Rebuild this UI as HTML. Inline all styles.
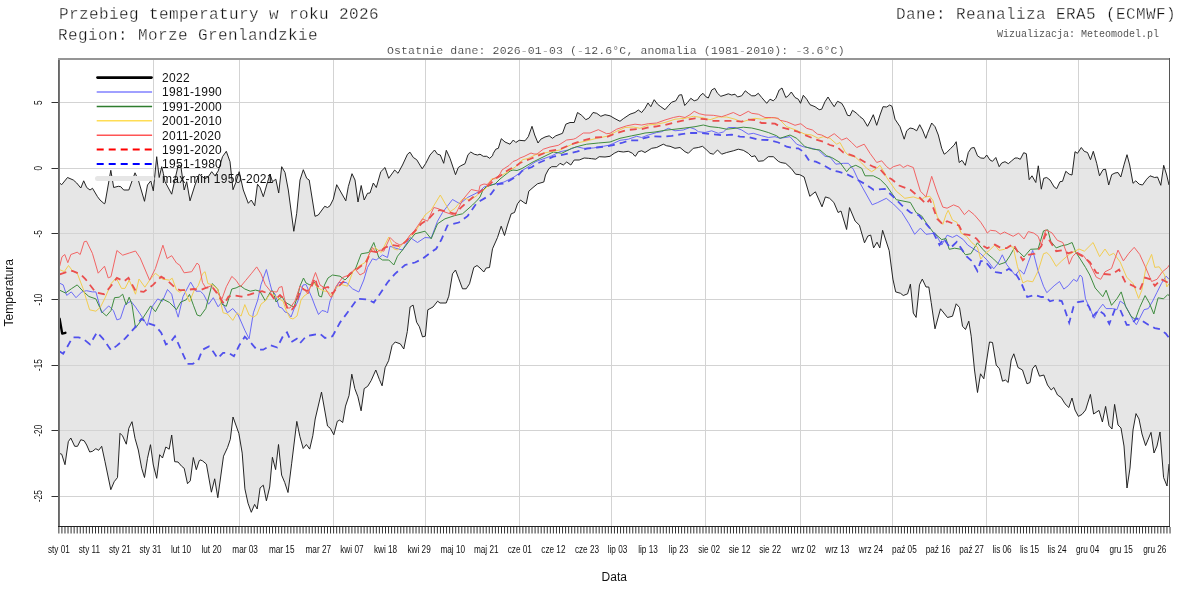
<!DOCTYPE html><html><head><meta charset="utf-8"><style>
html,body{margin:0;padding:0;background:#fff;width:1200px;height:600px;overflow:hidden}
svg{display:block;will-change:transform}
.mono{font-family:"Liberation Mono",monospace}
.sans{font-family:"Liberation Sans",sans-serif}
</style></head><body>
<svg width="1200" height="600" viewBox="0 0 1200 600">
<rect width="1200" height="600" fill="#fff"/>
<path d="M59.0,182.5 L61.7,184.7 L67.5,177.5 L73.3,180.0 L76.7,183.0 L80.8,188.0 L83.7,180.8 L86.7,187.5 L90.0,190.0 L92.5,188.3 L97.5,196.7 L100.0,200.0 L104.2,203.7 L105.0,203.3 L110.8,170.3 L113.7,187.5 L118.3,186.3 L120.8,186.7 L123.7,190.0 L128.8,190.0 L135.0,172.8 L138.3,180.0 L144.5,201.3 L147.5,185.0 L150.8,180.8 L153.3,190.8 L156.7,156.7 L159.2,177.5 L161.7,166.7 L163.3,173.3 L165.0,181.7 L171.7,194.2 L175.0,179.2 L178.3,165.0 L180.8,165.8 L184.2,190.0 L186.7,181.7 L190.0,200.8 L195.0,185.0 L199.2,174.2 L205.0,178.7 L208.3,176.7 L211.7,171.7 L215.0,175.8 L218.3,170.8 L222.5,156.7 L226.3,151.3 L230.0,161.7 L233.0,189.7 L235.8,182.5 L239.2,171.7 L243.3,190.0 L248.3,203.3 L251.3,200.0 L254.7,205.8 L257.5,184.2 L260.0,187.5 L263.3,196.7 L266.7,185.0 L270.0,174.2 L272.5,181.7 L275.8,179.2 L278.7,193.0 L281.7,166.7 L285.0,172.5 L288.3,190.0 L293.8,231.3 L296.7,213.3 L300.0,180.0 L303.3,169.7 L306.7,178.3 L309.2,180.0 L315.0,216.3 L318.3,215.0 L324.7,206.3 L327.5,207.5 L330.0,205.8 L333.3,199.2 L336.7,184.7 L345.8,200.8 L348.3,186.7 L352.0,173.7 L355.0,180.0 L358.0,202.0 L361.2,185.5 L364.2,200.0 L367.5,193.3 L370.0,193.0 L373.3,183.0 L376.3,187.5 L380.8,171.7 L385.0,167.5 L388.7,178.3 L394.7,170.0 L398.0,173.3 L402.5,165.0 L407.5,154.2 L410.0,152.2 L413.3,157.5 L416.7,159.7 L422.2,168.8 L425.8,163.3 L430.0,155.0 L434.5,150.0 L437.5,154.2 L440.3,155.0 L443.7,163.3 L446.3,150.3 L450.0,158.3 L455.5,174.7 L458.3,167.5 L460.8,165.8 L465.0,163.7 L468.0,154.7 L470.8,152.0 L474.2,154.2 L477.5,155.0 L480.0,154.2 L483.3,156.3 L486.7,156.3 L489.7,158.3 L492.5,155.8 L493.3,153.3 L495.8,149.2 L498.3,148.3 L501.3,138.7 L505.0,142.0 L510.0,144.2 L513.3,140.0 L515.8,142.5 L519.2,140.3 L525.0,140.8 L528.3,136.7 L532.0,126.3 L534.7,135.0 L538.0,143.0 L540.8,139.2 L545.0,137.0 L549.2,135.8 L552.5,138.3 L555.8,135.8 L562.5,133.3 L565.8,124.2 L570.0,122.5 L574.2,122.5 L577.5,112.5 L581.7,115.3 L585.8,119.7 L589.2,118.0 L593.0,112.5 L596.7,113.3 L600.8,116.3 L605.0,114.7 L610.0,115.8 L615.0,118.7 L620.0,121.3 L623.3,118.7 L630.0,114.2 L635.0,112.5 L638.3,110.0 L641.7,112.5 L645.0,108.3 L648.0,103.0 L650.8,106.7 L654.2,99.7 L657.5,104.2 L660.8,106.7 L665.0,109.7 L668.3,105.8 L671.7,102.2 L675.8,100.8 L679.2,95.0 L681.7,94.7 L684.7,105.5 L687.5,102.5 L690.8,98.3 L694.2,100.8 L697.5,99.7 L700.0,95.8 L703.0,93.3 L705.8,96.7 L708.3,98.0 L711.7,90.0 L714.7,88.3 L717.5,93.3 L720.8,96.3 L725.0,95.0 L728.3,93.8 L731.7,95.0 L735.0,94.2 L737.5,97.0 L741.7,95.8 L745.3,90.8 L748.3,93.3 L751.7,95.8 L755.0,95.8 L758.3,93.3 L761.7,97.5 L766.7,103.3 L770.0,99.2 L773.3,100.8 L775.8,98.3 L779.2,90.0 L782.0,88.0 L785.8,97.5 L788.3,95.8 L791.3,92.0 L795.0,97.5 L798.3,99.2 L800.5,103.3 L803.3,95.3 L806.7,99.2 L810.0,104.7 L815.0,106.7 L819.2,109.7 L821.7,109.2 L825.0,101.7 L828.0,97.0 L830.8,101.7 L834.2,106.7 L837.5,101.3 L841.7,103.3 L844.2,107.5 L847.5,115.3 L850.0,115.8 L852.5,110.3 L856.7,113.3 L860.0,116.7 L863.3,119.2 L867.5,126.3 L870.8,120.0 L873.3,114.7 L876.7,125.3 L880.0,115.0 L883.0,106.7 L886.7,107.0 L889.7,105.0 L892.0,106.3 L895.0,119.2 L900.0,126.7 L904.2,139.2 L906.7,130.8 L910.0,128.0 L913.3,128.7 L916.7,130.8 L919.7,124.7 L922.5,130.0 L925.8,138.3 L927.5,133.3 L931.7,123.0 L935.0,126.7 L938.3,135.0 L941.7,148.3 L944.2,154.2 L946.7,152.5 L950.8,148.3 L954.2,145.0 L956.2,141.7 L959.2,162.5 L962.0,160.3 L965.3,165.3 L968.3,152.5 L971.3,148.0 L974.2,147.5 L977.5,155.8 L980.8,158.0 L984.2,158.3 L986.7,155.0 L990.0,160.0 L992.5,161.3 L995.8,157.5 L999.2,166.7 L1001.7,163.0 L1005.0,161.7 L1008.3,163.7 L1011.7,160.8 L1015.0,158.0 L1017.5,158.0 L1020.3,159.3 L1023.7,152.7 L1026.3,153.7 L1029.2,179.7 L1032.0,175.8 L1035.8,182.5 L1038.3,165.8 L1041.3,189.2 L1043.7,178.3 L1046.7,177.5 L1050.0,180.0 L1054.2,187.0 L1056.7,188.7 L1060.0,181.7 L1062.5,181.3 L1065.8,171.3 L1069.2,174.2 L1072.0,175.0 L1075.0,151.7 L1077.5,153.3 L1081.3,147.5 L1084.2,151.3 L1087.5,152.5 L1090.5,159.7 L1093.3,151.3 L1096.7,163.3 L1099.5,175.8 L1103.0,169.7 L1105.5,169.2 L1108.7,185.0 L1111.7,174.7 L1115.0,173.0 L1118.0,172.5 L1120.8,177.0 L1124.2,164.2 L1127.0,154.7 L1129.7,165.0 L1133.0,183.3 L1135.8,180.8 L1139.2,184.2 L1142.5,185.0 L1146.7,179.2 L1150.0,175.8 L1154.7,177.5 L1157.5,177.0 L1160.8,185.3 L1163.7,165.3 L1166.7,175.0 L1169.0,185.0 L1169.0,464.0 L1167.0,486.0 L1163.6,477.6 L1160.0,432.0 L1157.0,446.0 L1154.0,453.0 L1151.0,432.4 L1145.6,445.6 L1142.0,434.0 L1139.0,419.0 L1136.0,413.6 L1133.0,430.0 L1130.0,468.0 L1127.0,488.0 L1124.0,446.0 L1121.0,428.0 L1118.0,425.0 L1114.6,404.4 L1112.0,429.0 L1109.0,425.6 L1105.6,406.4 L1102.4,422.0 L1099.0,410.4 L1093.6,414.0 L1090.4,394.4 L1085.6,410.0 L1082.0,414.4 L1078.4,416.4 L1075.0,410.0 L1072.0,398.0 L1068.8,407.5 L1065.0,403.8 L1061.2,397.5 L1057.5,395.0 L1053.8,387.5 L1051.2,390.0 L1047.5,385.0 L1043.8,375.0 L1039.5,376.2 L1035.5,365.0 L1032.5,368.8 L1030.0,382.5 L1027.0,383.8 L1022.5,370.0 L1018.0,367.5 L1013.8,353.8 L1011.2,360.0 L1008.2,382.5 L1005.5,380.0 L1002.5,381.2 L999.5,368.8 L996.2,365.0 L992.5,342.5 L989.5,342.0 L983.8,378.8 L980.5,373.8 L977.5,392.5 L974.5,370.0 L971.2,336.2 L968.8,321.2 L965.5,329.5 L962.5,326.2 L959.5,307.5 L956.2,303.8 L952.5,316.2 L947.5,317.5 L940.5,308.8 L935.0,328.8 L931.2,302.5 L928.8,287.0 L926.0,287.0 L922.3,279.1 L919.5,284.8 L916.1,317.4 L913.3,313.1 L910.4,284.2 L907.6,293.8 L903.3,295.5 L900.5,293.3 L895.7,291.9 L892.9,279.1 L889.2,250.7 L882.6,230.3 L879.8,247.9 L877.0,242.2 L873.6,247.9 L870.7,235.1 L867.9,236.0 L864.5,242.8 L859.4,225.2 L855.1,221.0 L849.5,207.6 L846.6,229.5 L841.0,211.0 L838.1,212.5 L833.9,202.5 L829.6,198.3 L825.4,196.9 L822.0,206.8 L815.4,191.8 L809.8,196.3 L804.1,177.0 L799.8,174.7 L795.6,174.2 L791.3,168.5 L785.7,163.4 L780.8,162.5 L778.3,161.3 L773.3,156.7 L768.3,156.7 L763.3,160.8 L758.3,161.3 L755.0,155.8 L751.7,156.7 L748.3,153.3 L743.3,150.3 L738.3,149.2 L733.3,150.8 L726.7,152.5 L721.7,154.2 L717.5,150.0 L713.3,154.2 L710.0,153.3 L706.7,150.0 L702.5,146.3 L698.3,147.5 L693.3,148.3 L688.3,153.3 L685.0,151.7 L680.0,147.5 L675.0,148.3 L670.0,146.3 L666.7,145.8 L663.3,144.2 L660.0,145.8 L656.7,147.5 L651.7,148.3 L645.0,152.5 L641.7,150.8 L638.3,151.7 L635.8,155.8 L635.0,156.3 L632.5,153.3 L628.3,151.3 L623.3,152.0 L618.3,151.3 L614.2,153.3 L610.0,156.3 L605.0,157.0 L599.2,156.7 L595.8,159.2 L591.7,158.7 L588.3,158.3 L584.2,158.0 L579.2,160.0 L574.2,160.0 L570.8,165.0 L566.7,162.0 L563.3,165.0 L560.0,163.3 L556.7,166.7 L551.7,166.7 L548.8,168.8 L545.5,175.0 L543.8,182.0 L537.5,183.8 L533.0,187.5 L528.8,191.2 L526.2,203.8 L523.8,202.5 L520.5,200.0 L517.5,203.8 L514.5,212.5 L511.2,213.8 L507.5,225.0 L504.5,235.5 L501.2,226.2 L497.5,237.5 L492.5,248.8 L489.5,267.5 L486.2,268.0 L483.8,272.0 L480.0,268.0 L477.0,265.5 L473.8,267.5 L469.5,283.8 L466.2,288.8 L462.5,288.8 L458.8,278.8 L455.5,270.0 L452.5,273.8 L448.8,296.2 L446.2,303.0 L440.0,303.0 L437.6,301.2 L433.0,307.0 L427.8,309.8 L425.3,336.2 L422.5,336.9 L419.4,326.8 L416.6,322.2 L413.1,305.1 L410.1,307.0 L407.3,331.5 L403.8,349.0 L400.3,343.9 L395.2,342.0 L392.1,345.5 L388.6,360.7 L385.1,367.7 L382.1,385.8 L379.3,379.3 L375.8,370.0 L371.2,380.5 L367.7,386.3 L364.2,388.6 L361.1,410.8 L357.9,396.8 L354.8,388.6 L351.8,374.2 L349.0,395.6 L345.5,406.1 L342.7,422.5 L339.7,420.1 L337.3,421.3 L333.8,434.8 L330.3,428.3 L327.5,426.0 L321.5,392.1 L315.2,419.0 L312.8,435.7 L309.7,449.1 L306.4,444.5 L303.2,448.5 L299.9,436.6 L296.8,421.4 L291.7,463.2 L288.0,492.5 L284.7,482.4 L281.6,475.1 L278.5,444.5 L275.6,469.6 L272.4,457.3 L269.7,487.0 L266.4,500.8 L263.3,485.2 L260.1,487.9 L257.2,509.0 L254.6,504.4 L251.3,512.3 L248.0,503.2 L244.9,488.9 L242.2,453.1 L238.9,433.5 L233.0,417.0 L230.3,439.3 L227.5,447.6 L223.5,456.2 L217.8,497.7 L214.7,478.8 L211.4,492.2 L206.4,464.1 L202.5,460.8 L200.0,459.9 L199.2,460.8 L196.3,469.7 L193.3,457.5 L190.3,480.8 L187.5,483.7 L184.2,468.3 L181.7,466.3 L178.0,462.0 L174.7,461.7 L171.7,435.0 L169.2,449.2 L165.8,447.0 L162.5,458.0 L159.7,454.7 L156.7,478.3 L153.3,465.0 L150.5,444.7 L147.5,458.3 L144.5,477.5 L141.7,468.3 L138.3,450.0 L135.0,438.3 L132.0,421.7 L128.8,428.3 L126.3,444.2 L122.5,435.8 L120.0,433.3 L117.5,477.5 L114.2,481.7 L110.8,489.7 L105.0,461.7 L101.7,446.3 L98.7,450.3 L95.8,448.7 L92.5,451.3 L89.7,452.0 L86.7,445.0 L84.2,440.8 L80.8,439.7 L77.5,446.3 L74.7,446.3 L70.8,438.0 L68.3,441.7 L65.0,464.7 L61.7,454.2 L59.0,453.3 Z" fill="#e6e6e6" stroke="none"/>
<path d="M59,102.5 H1169 M59,168.5 H1169 M59,233.5 H1169 M59,299.5 H1169 M59,365.5 H1169 M59,430.5 H1169 M59,496.5 H1169 M153.5,60 V526 M239.5,60 V526 M333.5,60 V526 M425.5,60 V526 M519.5,60 V526 M611.5,60 V526 M705.5,60 V526 M800.5,60 V526 M892.5,60 V526 M986.5,60 V526 M1078.5,60 V526" stroke="#d3d3d3" stroke-width="1" fill="none"/>
<path d="M59.0,182.5 L61.7,184.7 L67.5,177.5 L73.3,180.0 L76.7,183.0 L80.8,188.0 L83.7,180.8 L86.7,187.5 L90.0,190.0 L92.5,188.3 L97.5,196.7 L100.0,200.0 L104.2,203.7 L105.0,203.3 L110.8,170.3 L113.7,187.5 L118.3,186.3 L120.8,186.7 L123.7,190.0 L128.8,190.0 L135.0,172.8 L138.3,180.0 L144.5,201.3 L147.5,185.0 L150.8,180.8 L153.3,190.8 L156.7,156.7 L159.2,177.5 L161.7,166.7 L163.3,173.3 L165.0,181.7 L171.7,194.2 L175.0,179.2 L178.3,165.0 L180.8,165.8 L184.2,190.0 L186.7,181.7 L190.0,200.8 L195.0,185.0 L199.2,174.2 L205.0,178.7 L208.3,176.7 L211.7,171.7 L215.0,175.8 L218.3,170.8 L222.5,156.7 L226.3,151.3 L230.0,161.7 L233.0,189.7 L235.8,182.5 L239.2,171.7 L243.3,190.0 L248.3,203.3 L251.3,200.0 L254.7,205.8 L257.5,184.2 L260.0,187.5 L263.3,196.7 L266.7,185.0 L270.0,174.2 L272.5,181.7 L275.8,179.2 L278.7,193.0 L281.7,166.7 L285.0,172.5 L288.3,190.0 L293.8,231.3 L296.7,213.3 L300.0,180.0 L303.3,169.7 L306.7,178.3 L309.2,180.0 L315.0,216.3 L318.3,215.0 L324.7,206.3 L327.5,207.5 L330.0,205.8 L333.3,199.2 L336.7,184.7 L345.8,200.8 L348.3,186.7 L352.0,173.7 L355.0,180.0 L358.0,202.0 L361.2,185.5 L364.2,200.0 L367.5,193.3 L370.0,193.0 L373.3,183.0 L376.3,187.5 L380.8,171.7 L385.0,167.5 L388.7,178.3 L394.7,170.0 L398.0,173.3 L402.5,165.0 L407.5,154.2 L410.0,152.2 L413.3,157.5 L416.7,159.7 L422.2,168.8 L425.8,163.3 L430.0,155.0 L434.5,150.0 L437.5,154.2 L440.3,155.0 L443.7,163.3 L446.3,150.3 L450.0,158.3 L455.5,174.7 L458.3,167.5 L460.8,165.8 L465.0,163.7 L468.0,154.7 L470.8,152.0 L474.2,154.2 L477.5,155.0 L480.0,154.2 L483.3,156.3 L486.7,156.3 L489.7,158.3 L492.5,155.8 L493.3,153.3 L495.8,149.2 L498.3,148.3 L501.3,138.7 L505.0,142.0 L510.0,144.2 L513.3,140.0 L515.8,142.5 L519.2,140.3 L525.0,140.8 L528.3,136.7 L532.0,126.3 L534.7,135.0 L538.0,143.0 L540.8,139.2 L545.0,137.0 L549.2,135.8 L552.5,138.3 L555.8,135.8 L562.5,133.3 L565.8,124.2 L570.0,122.5 L574.2,122.5 L577.5,112.5 L581.7,115.3 L585.8,119.7 L589.2,118.0 L593.0,112.5 L596.7,113.3 L600.8,116.3 L605.0,114.7 L610.0,115.8 L615.0,118.7 L620.0,121.3 L623.3,118.7 L630.0,114.2 L635.0,112.5 L638.3,110.0 L641.7,112.5 L645.0,108.3 L648.0,103.0 L650.8,106.7 L654.2,99.7 L657.5,104.2 L660.8,106.7 L665.0,109.7 L668.3,105.8 L671.7,102.2 L675.8,100.8 L679.2,95.0 L681.7,94.7 L684.7,105.5 L687.5,102.5 L690.8,98.3 L694.2,100.8 L697.5,99.7 L700.0,95.8 L703.0,93.3 L705.8,96.7 L708.3,98.0 L711.7,90.0 L714.7,88.3 L717.5,93.3 L720.8,96.3 L725.0,95.0 L728.3,93.8 L731.7,95.0 L735.0,94.2 L737.5,97.0 L741.7,95.8 L745.3,90.8 L748.3,93.3 L751.7,95.8 L755.0,95.8 L758.3,93.3 L761.7,97.5 L766.7,103.3 L770.0,99.2 L773.3,100.8 L775.8,98.3 L779.2,90.0 L782.0,88.0 L785.8,97.5 L788.3,95.8 L791.3,92.0 L795.0,97.5 L798.3,99.2 L800.5,103.3 L803.3,95.3 L806.7,99.2 L810.0,104.7 L815.0,106.7 L819.2,109.7 L821.7,109.2 L825.0,101.7 L828.0,97.0 L830.8,101.7 L834.2,106.7 L837.5,101.3 L841.7,103.3 L844.2,107.5 L847.5,115.3 L850.0,115.8 L852.5,110.3 L856.7,113.3 L860.0,116.7 L863.3,119.2 L867.5,126.3 L870.8,120.0 L873.3,114.7 L876.7,125.3 L880.0,115.0 L883.0,106.7 L886.7,107.0 L889.7,105.0 L892.0,106.3 L895.0,119.2 L900.0,126.7 L904.2,139.2 L906.7,130.8 L910.0,128.0 L913.3,128.7 L916.7,130.8 L919.7,124.7 L922.5,130.0 L925.8,138.3 L927.5,133.3 L931.7,123.0 L935.0,126.7 L938.3,135.0 L941.7,148.3 L944.2,154.2 L946.7,152.5 L950.8,148.3 L954.2,145.0 L956.2,141.7 L959.2,162.5 L962.0,160.3 L965.3,165.3 L968.3,152.5 L971.3,148.0 L974.2,147.5 L977.5,155.8 L980.8,158.0 L984.2,158.3 L986.7,155.0 L990.0,160.0 L992.5,161.3 L995.8,157.5 L999.2,166.7 L1001.7,163.0 L1005.0,161.7 L1008.3,163.7 L1011.7,160.8 L1015.0,158.0 L1017.5,158.0 L1020.3,159.3 L1023.7,152.7 L1026.3,153.7 L1029.2,179.7 L1032.0,175.8 L1035.8,182.5 L1038.3,165.8 L1041.3,189.2 L1043.7,178.3 L1046.7,177.5 L1050.0,180.0 L1054.2,187.0 L1056.7,188.7 L1060.0,181.7 L1062.5,181.3 L1065.8,171.3 L1069.2,174.2 L1072.0,175.0 L1075.0,151.7 L1077.5,153.3 L1081.3,147.5 L1084.2,151.3 L1087.5,152.5 L1090.5,159.7 L1093.3,151.3 L1096.7,163.3 L1099.5,175.8 L1103.0,169.7 L1105.5,169.2 L1108.7,185.0 L1111.7,174.7 L1115.0,173.0 L1118.0,172.5 L1120.8,177.0 L1124.2,164.2 L1127.0,154.7 L1129.7,165.0 L1133.0,183.3 L1135.8,180.8 L1139.2,184.2 L1142.5,185.0 L1146.7,179.2 L1150.0,175.8 L1154.7,177.5 L1157.5,177.0 L1160.8,185.3 L1163.7,165.3 L1166.7,175.0 L1169.0,185.0" stroke="#1a1a1a" stroke-width="0.95" fill="none" stroke-linejoin="round"/>
<path d="M59.0,453.3 L61.7,454.2 L65.0,464.7 L68.3,441.7 L70.8,438.0 L74.7,446.3 L77.5,446.3 L80.8,439.7 L84.2,440.8 L86.7,445.0 L89.7,452.0 L92.5,451.3 L95.8,448.7 L98.7,450.3 L101.7,446.3 L105.0,461.7 L110.8,489.7 L114.2,481.7 L117.5,477.5 L120.0,433.3 L122.5,435.8 L126.3,444.2 L128.8,428.3 L132.0,421.7 L135.0,438.3 L138.3,450.0 L141.7,468.3 L144.5,477.5 L147.5,458.3 L150.5,444.7 L153.3,465.0 L156.7,478.3 L159.7,454.7 L162.5,458.0 L165.8,447.0 L169.2,449.2 L171.7,435.0 L174.7,461.7 L178.0,462.0 L181.7,466.3 L184.2,468.3 L187.5,483.7 L190.3,480.8 L193.3,457.5 L196.3,469.7 L199.2,460.8 L200.0,459.9 L202.5,460.8 L206.4,464.1 L211.4,492.2 L214.7,478.8 L217.8,497.7 L223.5,456.2 L227.5,447.6 L230.3,439.3 L233.0,417.0 L238.9,433.5 L242.2,453.1 L244.9,488.9 L248.0,503.2 L251.3,512.3 L254.6,504.4 L257.2,509.0 L260.1,487.9 L263.3,485.2 L266.4,500.8 L269.7,487.0 L272.4,457.3 L275.6,469.6 L278.5,444.5 L281.6,475.1 L284.7,482.4 L288.0,492.5 L291.7,463.2 L296.8,421.4 L299.9,436.6 L303.2,448.5 L306.4,444.5 L309.7,449.1 L312.8,435.7 L315.2,419.0 L321.5,392.1 L327.5,426.0 L330.3,428.3 L333.8,434.8 L337.3,421.3 L339.7,420.1 L342.7,422.5 L345.5,406.1 L349.0,395.6 L351.8,374.2 L354.8,388.6 L357.9,396.8 L361.1,410.8 L364.2,388.6 L367.7,386.3 L371.2,380.5 L375.8,370.0 L379.3,379.3 L382.1,385.8 L385.1,367.7 L388.6,360.7 L392.1,345.5 L395.2,342.0 L400.3,343.9 L403.8,349.0 L407.3,331.5 L410.1,307.0 L413.1,305.1 L416.6,322.2 L419.4,326.8 L422.5,336.9 L425.3,336.2 L427.8,309.8 L433.0,307.0 L437.6,301.2 L440.0,303.0 L446.2,303.0 L448.8,296.2 L452.5,273.8 L455.5,270.0 L458.8,278.8 L462.5,288.8 L466.2,288.8 L469.5,283.8 L473.8,267.5 L477.0,265.5 L480.0,268.0 L483.8,272.0 L486.2,268.0 L489.5,267.5 L492.5,248.8 L497.5,237.5 L501.2,226.2 L504.5,235.5 L507.5,225.0 L511.2,213.8 L514.5,212.5 L517.5,203.8 L520.5,200.0 L523.8,202.5 L526.2,203.8 L528.8,191.2 L533.0,187.5 L537.5,183.8 L543.8,182.0 L545.5,175.0 L548.8,168.8 L551.7,166.7 L556.7,166.7 L560.0,163.3 L563.3,165.0 L566.7,162.0 L570.8,165.0 L574.2,160.0 L579.2,160.0 L584.2,158.0 L588.3,158.3 L591.7,158.7 L595.8,159.2 L599.2,156.7 L605.0,157.0 L610.0,156.3 L614.2,153.3 L618.3,151.3 L623.3,152.0 L628.3,151.3 L632.5,153.3 L635.0,156.3 L635.8,155.8 L638.3,151.7 L641.7,150.8 L645.0,152.5 L651.7,148.3 L656.7,147.5 L660.0,145.8 L663.3,144.2 L666.7,145.8 L670.0,146.3 L675.0,148.3 L680.0,147.5 L685.0,151.7 L688.3,153.3 L693.3,148.3 L698.3,147.5 L702.5,146.3 L706.7,150.0 L710.0,153.3 L713.3,154.2 L717.5,150.0 L721.7,154.2 L726.7,152.5 L733.3,150.8 L738.3,149.2 L743.3,150.3 L748.3,153.3 L751.7,156.7 L755.0,155.8 L758.3,161.3 L763.3,160.8 L768.3,156.7 L773.3,156.7 L778.3,161.3 L780.8,162.5 L785.7,163.4 L791.3,168.5 L795.6,174.2 L799.8,174.7 L804.1,177.0 L809.8,196.3 L815.4,191.8 L822.0,206.8 L825.4,196.9 L829.6,198.3 L833.9,202.5 L838.1,212.5 L841.0,211.0 L846.6,229.5 L849.5,207.6 L855.1,221.0 L859.4,225.2 L864.5,242.8 L867.9,236.0 L870.7,235.1 L873.6,247.9 L877.0,242.2 L879.8,247.9 L882.6,230.3 L889.2,250.7 L892.9,279.1 L895.7,291.9 L900.5,293.3 L903.3,295.5 L907.6,293.8 L910.4,284.2 L913.3,313.1 L916.1,317.4 L919.5,284.8 L922.3,279.1 L926.0,287.0 L928.8,287.0 L931.2,302.5 L935.0,328.8 L940.5,308.8 L947.5,317.5 L952.5,316.2 L956.2,303.8 L959.5,307.5 L962.5,326.2 L965.5,329.5 L968.8,321.2 L971.2,336.2 L974.5,370.0 L977.5,392.5 L980.5,373.8 L983.8,378.8 L989.5,342.0 L992.5,342.5 L996.2,365.0 L999.5,368.8 L1002.5,381.2 L1005.5,380.0 L1008.2,382.5 L1011.2,360.0 L1013.8,353.8 L1018.0,367.5 L1022.5,370.0 L1027.0,383.8 L1030.0,382.5 L1032.5,368.8 L1035.5,365.0 L1039.5,376.2 L1043.8,375.0 L1047.5,385.0 L1051.2,390.0 L1053.8,387.5 L1057.5,395.0 L1061.2,397.5 L1065.0,403.8 L1068.8,407.5 L1072.0,398.0 L1075.0,410.0 L1078.4,416.4 L1082.0,414.4 L1085.6,410.0 L1090.4,394.4 L1093.6,414.0 L1099.0,410.4 L1102.4,422.0 L1105.6,406.4 L1109.0,425.6 L1112.0,429.0 L1114.6,404.4 L1118.0,425.0 L1121.0,428.0 L1124.0,446.0 L1127.0,488.0 L1130.0,468.0 L1133.0,430.0 L1136.0,413.6 L1139.0,419.0 L1142.0,434.0 L1145.6,445.6 L1151.0,432.4 L1154.0,453.0 L1157.0,446.0 L1160.0,432.0 L1163.6,477.6 L1167.0,486.0 L1169.0,464.0" stroke="#1a1a1a" stroke-width="0.95" fill="none" stroke-linejoin="round"/>
<path d="M59.7,283.2 L63.2,284.9 L66.7,295.4 L71.3,291.9 L76.0,297.7 L81.8,291.9 L86.5,290.7 L92.4,291.9 L95.9,291.9 L101.7,312.9 L108.7,305.9 L113.4,310.5 L116.9,319.9 L120.4,318.7 L125.0,304.7 L130.9,301.2 L135.5,307.0 L142.5,317.5 L147.2,325.7 L151.9,307.0 L157.7,298.9 L162.4,301.2 L167.5,289.5 L171.7,294.2 L174.3,305.2 L178.2,317.2 L183.0,296.6 L190.6,282.1 L196.0,291.2 L200.3,291.2 L203.6,294.4 L208.6,304.2 L213.3,297.7 L218.1,306.8 L222.0,302.0 L227.4,312.8 L232.8,308.5 L238.2,315.0 L244.8,330.2 L249.1,338.8 L253.4,312.8 L257.8,299.8 L261.0,284.7 L266.4,269.5 L269.7,282.5 L272.0,291.0 L275.0,294.0 L277.0,300.0 L279.0,307.0 L282.0,308.0 L285.0,312.0 L288.0,313.0 L291.0,317.0 L294.0,309.0 L297.5,302.0 L300.0,295.0 L303.0,285.0 L306.0,284.5 L309.0,291.0 L312.0,298.0 L315.0,306.0 L318.5,314.5 L322.0,310.5 L326.0,311.5 L327.5,313.0 L330.0,301.0 L338.8,282.5 L346.2,282.5 L352.5,288.8 L358.8,292.0 L363.8,280.0 L367.5,267.5 L372.5,258.8 L376.2,260.0 L382.5,255.0 L387.5,257.5 L390.0,246.2 L395.0,248.0 L402.5,250.0 L410.0,237.5 L417.5,242.5 L425.0,237.5 L431.2,238.0 L437.5,221.2 L442.5,212.5 L452.5,199.5 L460.0,203.8 L467.5,197.5 L475.0,193.8 L480.0,191.0 L484.0,187.0 L490.0,185.0 L495.0,184.0 L500.0,183.0 L504.0,182.0 L509.0,179.5 L514.0,177.0 L519.0,173.5 L523.0,170.0 L528.0,167.0 L532.0,164.0 L536.0,161.5 L551.7,155.8 L560.0,151.7 L568.3,150.0 L576.7,146.7 L583.3,148.3 L593.3,148.0 L603.3,146.3 L610.0,145.0 L620.0,140.3 L628.3,139.2 L636.7,136.3 L641.7,137.5 L648.3,135.0 L656.7,132.5 L661.7,131.7 L668.3,128.3 L675.0,130.8 L683.3,130.0 L690.0,127.5 L695.0,129.2 L698.3,131.7 L705.0,132.5 L711.7,130.8 L718.3,133.3 L723.3,132.0 L728.3,127.5 L735.0,127.5 L741.7,130.0 L748.3,134.2 L753.3,133.3 L761.7,135.8 L768.3,137.5 L775.0,136.7 L780.0,138.3 L790.0,136.7 L796.7,144.2 L803.3,146.7 L811.7,148.3 L818.3,150.0 L825.0,156.3 L830.0,157.0 L835.8,164.2 L843.3,163.3 L848.3,163.3 L853.3,169.2 L858.3,180.0 L872.2,204.8 L877.8,202.5 L886.3,198.3 L893.4,204.0 L901.9,212.5 L909.0,223.8 L914.7,234.3 L920.4,228.1 L926.0,234.3 L930.8,233.7 L935.2,233.1 L941.7,245.0 L947.1,235.2 L952.5,237.4 L956.8,235.2 L963.3,239.6 L967.7,245.0 L974.2,249.3 L980.7,253.7 L987.2,260.2 L993.7,268.8 L998.0,263.4 L1002.3,254.8 L1006.7,264.5 L1011.0,269.9 L1015.3,275.3 L1019.7,269.9 L1024.0,274.2 L1028.3,262.3 L1032.7,250.4 L1038.1,271.0 L1043.5,286.2 L1046.8,292.7 L1054.1,285.8 L1059.5,281.5 L1063.8,289.1 L1068.2,285.8 L1073.6,279.3 L1076.8,281.5 L1080.1,275.0 L1082.2,277.2 L1085.5,298.8 L1090.9,310.8 L1094.2,318.3 L1098.5,309.7 L1102.8,304.2 L1106.1,308.6 L1112.6,308.6 L1116.9,309.7 L1120.2,301.0 L1124.5,304.2 L1128.8,311.8 L1133.2,320.5 L1136.4,324.8 L1139.7,318.3 L1144.0,309.7 L1148.3,308.6 L1152.7,301.0 L1157.0,292.3 L1161.3,283.7 L1166.1,276.1 L1169.0,279.3" stroke="#6b6bf7" stroke-width="1" fill="none"/>
<path d="M59.7,290.2 L65.5,293.0 L71.3,288.8 L77.2,284.9 L83.0,291.2 L88.9,296.5 L95.9,298.9 L101.7,311.7 L106.4,315.9 L111.0,310.5 L114.5,297.7 L119.2,297.2 L122.7,294.2 L126.2,304.7 L129.2,297.2 L132.0,304.7 L135.5,328.1 L142.5,318.7 L150.7,305.9 L155.4,311.7 L162.4,298.9 L169.4,302.4 L176.5,309.6 L180.8,302.0 L186.2,299.8 L189.5,294.4 L193.4,305.2 L197.1,315.0 L200.3,316.1 L205.8,308.5 L212.2,283.6 L217.7,289.0 L222.0,304.2 L226.3,306.3 L231.8,289.0 L236.1,287.9 L240.4,285.8 L244.8,289.0 L250.2,291.2 L255.6,290.1 L259.9,291.2 L265.3,300.9 L270.8,291.2 L273.0,291.0 L276.0,302.0 L282.0,296.5 L285.0,302.0 L290.0,305.0 L294.0,307.0 L298.0,295.0 L300.0,286.0 L303.5,278.0 L306.0,283.0 L310.0,285.0 L314.0,282.0 L317.0,287.0 L319.0,296.0 L321.5,297.0 L324.5,285.0 L328.0,278.0 L332.5,275.0 L340.0,276.2 L345.0,280.0 L350.0,275.0 L355.0,270.0 L361.2,253.8 L368.8,252.5 L373.8,242.5 L378.8,257.5 L382.5,260.0 L388.8,260.0 L393.8,265.0 L397.5,256.2 L402.5,250.0 L410.0,240.0 L415.0,233.8 L425.0,231.2 L431.2,238.8 L437.5,223.8 L445.0,218.8 L455.0,215.5 L462.5,213.8 L472.5,205.0 L477.5,200.0 L480.0,197.0 L483.0,190.0 L486.0,187.0 L490.0,185.5 L495.0,184.0 L500.0,179.0 L505.0,175.0 L510.0,171.0 L513.0,170.0 L517.0,170.5 L522.0,168.5 L527.0,165.5 L532.0,162.5 L536.0,160.5 L553.3,152.0 L561.7,153.3 L571.7,148.3 L580.0,145.8 L586.7,144.2 L598.3,143.0 L610.0,142.0 L620.0,138.3 L631.7,135.8 L640.0,134.2 L645.0,133.0 L655.0,132.0 L665.0,130.3 L675.0,129.2 L685.0,128.0 L695.0,126.7 L703.3,125.0 L710.0,126.7 L718.3,127.5 L726.7,129.2 L735.0,128.3 L743.3,127.2 L751.7,128.0 L760.0,130.0 L768.3,132.5 L776.7,135.8 L780.0,138.3 L790.0,135.0 L796.7,138.3 L805.0,146.7 L813.3,149.2 L820.0,150.0 L826.7,155.8 L831.7,157.5 L840.0,162.5 L846.7,171.7 L850.0,167.5 L855.8,165.3 L861.7,168.3 L865.0,175.8 L873.3,175.8 L880.0,179.2 L886.3,185.5 L896.3,199.7 L910.4,202.5 L916.1,212.5 L921.8,216.1 L926.5,223.3 L933.0,232.0 L941.7,239.6 L946.0,238.5 L949.2,249.3 L954.7,248.2 L961.2,249.3 L965.5,254.8 L970.9,253.7 L977.4,242.8 L982.8,249.3 L987.2,253.7 L993.7,259.1 L999.1,264.5 L1005.6,262.3 L1009.9,255.8 L1014.2,248.2 L1019.7,252.6 L1024.0,256.9 L1030.5,249.3 L1038.1,248.9 L1043.5,230.9 L1047.8,229.8 L1050.8,241.4 L1056.2,247.9 L1061.7,245.8 L1067.1,244.7 L1072.1,242.5 L1075.8,252.2 L1080.1,258.8 L1085.5,267.4 L1089.8,275.0 L1095.2,288.0 L1102.8,296.7 L1106.1,290.2 L1111.5,305.3 L1116.9,298.8 L1121.2,291.9 L1125.6,306.4 L1131.0,316.2 L1135.3,319.4 L1139.7,307.5 L1145.1,295.6 L1149.4,303.2 L1153.8,314.0 L1158.1,297.8 L1163.5,298.8 L1167.8,294.5 L1169.0,295.6" stroke="#3f8c3f" stroke-width="1" fill="none"/>
<path d="M59.7,269.7 L64.3,271.6 L68.5,265.5 L72.5,270.9 L77.2,273.2 L83.0,288.4 L89.6,309.8 L95.9,311.2 L100.5,307.0 L105.2,297.7 L111.0,283.7 L116.2,277.9 L121.5,288.4 L125.0,288.4 L129.2,280.2 L135.5,294.2 L139.0,279.0 L144.9,287.2 L149.6,280.2 L155.4,273.2 L162.4,279.0 L169.4,280.2 L172.2,278.2 L176.5,290.1 L179.8,292.2 L184.1,289.0 L189.5,302.0 L193.8,291.2 L198.2,285.8 L202.5,273.8 L205.1,271.7 L207.9,283.6 L212.2,284.7 L217.7,289.0 L223.1,312.8 L227.4,313.9 L232.8,320.4 L237.2,312.8 L241.1,316.1 L244.8,304.6 L249.1,315.0 L253.4,317.2 L256.7,315.0 L261.0,304.2 L265.3,300.9 L269.7,294.4 L274.0,295.0 L279.0,299.0 L283.0,301.0 L286.0,310.0 L290.0,318.0 L293.0,319.0 L297.0,316.0 L299.0,308.0 L301.0,300.0 L304.0,296.0 L307.0,294.0 L310.0,287.5 L314.0,283.0 L317.0,287.0 L320.0,289.0 L324.0,291.0 L328.0,291.5 L332.5,296.2 L336.2,287.5 L341.2,284.5 L347.5,286.2 L352.5,272.5 L358.8,266.2 L365.0,262.5 L370.0,252.5 L375.0,247.5 L381.2,252.5 L388.8,237.0 L393.8,248.8 L397.5,250.0 L402.5,243.8 L408.8,237.5 L415.0,232.5 L425.0,215.0 L431.2,210.0 L440.3,195.0 L445.0,203.3 L450.0,211.7 L455.0,208.3 L461.7,200.0 L465.0,198.3 L470.0,200.0 L476.7,195.8 L480.0,192.0 L484.0,190.0 L487.0,187.0 L490.0,181.0 L492.0,178.5 L495.0,179.0 L500.0,176.0 L504.0,174.0 L507.0,172.5 L510.0,170.0 L513.0,168.5 L516.0,166.5 L520.0,162.0 L523.0,159.5 L528.0,158.5 L532.0,156.5 L536.0,154.5 L560.0,150.0 L573.3,143.7 L585.0,141.3 L596.7,138.3 L606.7,136.3 L616.7,131.3 L625.0,127.5 L633.3,127.0 L640.0,128.3 L641.7,127.5 L648.3,125.0 L656.7,124.2 L665.0,122.5 L675.0,119.2 L685.0,118.3 L693.3,116.3 L701.7,117.5 L710.0,119.7 L718.3,117.0 L726.7,117.0 L735.0,119.2 L741.7,122.0 L748.3,120.0 L755.0,118.3 L761.7,119.2 L768.3,118.3 L775.0,117.5 L780.0,120.0 L786.7,126.7 L795.0,129.7 L805.0,134.2 L811.7,135.0 L818.3,138.3 L823.3,136.7 L830.0,138.3 L836.7,144.2 L840.0,142.5 L845.0,151.7 L848.3,155.3 L855.0,156.7 L861.7,163.0 L866.7,168.3 L871.7,171.7 L876.7,168.3 L880.0,165.3 L883.3,170.8 L886.7,177.5 L896.3,191.2 L904.8,198.3 L913.3,196.9 L921.8,199.7 L924.3,197.3 L929.8,196.2 L933.0,200.6 L937.3,216.8 L942.8,224.4 L946.0,214.7 L948.2,210.3 L952.5,220.1 L956.8,222.2 L961.2,233.1 L966.6,236.3 L972.0,242.8 L977.4,247.2 L980.7,259.1 L985.0,253.7 L989.3,250.4 L994.8,245.0 L999.1,250.4 L1004.5,249.3 L1008.8,246.1 L1013.2,247.2 L1017.5,266.7 L1022.9,282.9 L1027.2,280.8 L1032.7,281.8 L1038.1,271.0 L1043.5,253.7 L1046.8,252.6 L1049.8,255.5 L1056.2,266.3 L1061.7,260.9 L1069.2,254.4 L1079.0,249.0 L1084.4,251.2 L1093.1,242.5 L1099.6,256.6 L1105.0,249.0 L1109.3,255.5 L1113.7,253.3 L1120.2,262.0 L1126.7,277.2 L1133.2,283.7 L1138.6,298.4 L1141.8,290.2 L1146.2,266.3 L1151.6,254.4 L1154.8,267.4 L1159.2,266.8 L1164.6,275.0 L1166.8,286.9 L1169.0,283.7" stroke="#f2cd50" stroke-width="1" fill="none"/>
<path d="M59.7,266.2 L62.0,256.8 L64.8,254.5 L67.8,262.7 L70.9,254.5 L77.2,252.2 L80.2,254.5 L84.2,241.7 L86.5,241.2 L92.4,253.3 L98.2,273.2 L104.5,266.2 L108.2,277.9 L111.0,276.7 L116.9,250.5 L122.7,255.2 L129.7,252.9 L135.5,251.0 L140.2,258.0 L149.6,280.2 L155.4,268.5 L162.9,245.2 L167.1,258.5 L171.7,255.7 L176.5,263.0 L179.8,265.2 L184.1,272.8 L191.7,271.7 L197.1,263.0 L199.2,265.2 L202.5,282.5 L205.8,287.9 L211.2,285.8 L215.5,290.1 L222.0,298.8 L226.3,286.8 L231.8,276.4 L236.1,280.3 L240.4,286.8 L245.8,280.3 L251.2,273.8 L256.7,266.9 L261.0,273.8 L265.3,284.7 L270.8,291.6 L277.0,292.0 L279.0,287.5 L282.0,286.5 L284.0,297.0 L287.0,308.0 L290.0,308.0 L295.0,301.0 L300.0,286.0 L304.0,289.0 L308.0,294.0 L312.0,282.0 L315.5,272.5 L320.0,285.0 L325.0,288.0 L330.0,296.0 L331.2,297.5 L336.2,286.2 L342.5,277.5 L348.8,275.0 L355.0,268.8 L360.0,275.0 L364.5,272.5 L368.8,255.0 L372.5,247.5 L376.2,252.5 L380.0,250.0 L383.8,251.2 L390.0,237.5 L395.0,242.5 L400.0,245.0 L405.0,242.5 L410.0,235.0 L415.0,230.0 L422.5,218.8 L427.5,221.2 L433.8,207.5 L438.8,208.8 L442.5,211.2 L450.0,213.8 L455.0,215.5 L462.5,200.0 L471.2,189.5 L478.8,191.2 L480.0,185.5 L484.0,184.0 L487.0,184.5 L490.0,182.0 L493.0,179.0 L497.0,177.0 L500.0,174.0 L502.0,170.0 L505.0,168.0 L509.0,165.5 L513.0,161.5 L517.0,160.0 L520.0,158.0 L524.0,156.5 L528.0,154.5 L531.0,153.0 L534.0,154.0 L537.0,154.0 L543.3,149.2 L550.0,147.0 L558.3,145.3 L566.7,140.0 L573.3,139.2 L575.8,138.3 L583.3,133.0 L590.0,133.0 L598.3,129.7 L606.7,133.7 L610.0,133.3 L616.7,129.2 L626.7,125.8 L635.0,124.2 L641.7,125.0 L648.3,123.7 L656.7,123.0 L665.0,120.0 L673.3,117.5 L679.2,116.3 L685.0,117.5 L690.0,114.7 L694.2,111.3 L699.2,113.7 L705.0,115.0 L713.3,115.3 L721.7,116.7 L726.7,115.0 L733.3,112.5 L740.0,115.8 L748.3,111.3 L751.7,113.3 L758.3,114.2 L765.0,117.5 L771.7,117.5 L778.3,118.3 L780.0,120.3 L786.7,121.7 L795.0,125.3 L800.8,123.7 L806.7,128.3 L812.5,130.0 L817.5,134.2 L821.7,135.0 L827.5,138.0 L834.2,133.7 L841.7,140.0 L846.7,138.0 L851.7,142.5 L856.7,147.5 L864.2,144.2 L870.0,153.3 L876.7,162.5 L881.7,160.8 L886.7,166.7 L890.0,169.2 L893.3,166.7 L900.0,164.7 L903.3,167.5 L907.5,165.3 L913.3,167.5 L916.1,177.0 L920.4,191.2 L926.0,196.9 L931.7,176.3 L937.3,193.0 L942.8,207.1 L947.1,208.2 L953.6,204.9 L959.0,207.1 L964.4,214.7 L968.8,210.3 L974.2,214.7 L980.7,222.2 L985.0,228.8 L987.2,233.1 L990.4,230.3 L995.8,230.9 L1000.2,234.2 L1004.5,232.0 L1008.8,234.2 L1013.2,236.3 L1018.6,233.1 L1024.0,238.9 L1028.3,231.6 L1033.8,233.1 L1038.1,236.3 L1041.3,245.0 L1045.7,229.8 L1051.9,232.8 L1057.3,240.3 L1062.8,242.5 L1066.0,251.2 L1069.2,264.2 L1072.5,256.6 L1076.8,252.2 L1083.3,255.5 L1089.8,264.2 L1096.3,277.2 L1100.7,279.3 L1105.0,271.8 L1111.5,268.5 L1118.0,250.1 L1123.4,260.9 L1128.8,253.3 L1134.2,247.3 L1139.7,254.4 L1145.1,266.3 L1151.6,281.5 L1157.0,279.3 L1162.4,271.8 L1167.8,267.4 L1169.0,265.2" stroke="#f26464" stroke-width="1" fill="none"/>
<path d="M59.7,274.4 L66.7,272.0 L72.5,270.9 L80.7,274.4 L85.4,279.0 L95.9,292.6 L104.0,294.2 L111.0,286.0 L116.9,277.9 L123.9,281.4 L128.5,277.9 L135.5,290.7 L143.7,291.9 L153.1,284.9 L161.2,276.7 L167.1,280.2 L175.4,287.9 L179.8,290.1 L185.2,290.1 L193.8,289.0 L200.3,290.1 L205.8,287.9 L212.2,286.8 L217.7,294.4 L224.2,304.2 L228.5,296.6 L235.0,295.5 L241.5,296.6 L250.2,294.4 L256.7,292.2 L262.1,291.2 L267.5,293.3 L270.0,293.0 L275.0,300.0 L280.0,295.0 L284.0,299.0 L288.0,310.0 L292.0,309.5 L296.0,304.5 L300.0,291.0 L303.0,289.0 L307.0,291.0 L311.0,288.0 L315.0,278.0 L317.0,285.0 L320.0,289.0 L324.0,288.0 L328.0,287.0 L332.5,293.8 L336.2,288.8 L343.8,281.2 L350.0,273.8 L357.5,268.8 L366.2,262.0 L371.2,251.2 L378.8,252.5 L385.0,247.5 L392.5,245.0 L400.0,246.2 L406.2,241.2 L413.8,232.5 L421.2,223.8 L428.8,218.8 L435.0,212.0 L440.0,210.0 L445.0,211.2 L455.0,213.8 L462.5,206.2 L472.5,197.5 L477.5,193.8 L480.0,192.0 L486.0,187.0 L490.0,184.0 L495.0,179.0 L500.0,176.0 L506.0,171.5 L510.0,169.0 L516.0,166.0 L520.0,163.0 L526.0,160.5 L530.0,159.0 L536.0,156.5 L550.0,150.8 L560.0,149.2 L571.7,144.2 L583.3,140.3 L595.0,137.5 L606.7,137.0 L616.7,133.0 L626.7,130.0 L636.7,129.2 L641.7,129.2 L648.3,127.5 L656.7,126.3 L665.0,125.0 L675.0,122.5 L685.0,120.0 L695.0,118.3 L705.0,119.2 L713.3,120.8 L723.3,120.8 L733.3,120.8 L741.7,121.7 L748.3,119.7 L755.0,120.0 L761.7,123.0 L768.3,123.3 L775.0,123.7 L781.7,127.5 L788.3,129.2 L796.7,131.3 L805.0,135.0 L815.0,139.2 L823.3,141.7 L830.0,145.0 L836.7,146.7 L843.3,152.5 L853.3,155.8 L860.0,159.2 L866.7,163.3 L873.3,166.7 L880.0,169.2 L886.7,176.7 L891.7,179.2 L899.1,185.5 L910.4,189.8 L918.9,196.9 L926.0,204.0 L929.8,199.5 L933.0,207.1 L937.3,219.0 L942.8,224.4 L947.1,221.2 L952.5,223.3 L959.0,225.5 L963.3,234.2 L969.8,235.2 L976.3,238.5 L981.8,245.0 L987.2,248.2 L994.8,244.6 L1001.2,248.2 L1006.7,248.2 L1013.2,243.9 L1017.5,251.5 L1022.9,260.2 L1028.3,254.8 L1034.8,253.7 L1041.3,246.1 L1045.7,234.2 L1050.8,242.5 L1056.2,251.2 L1062.8,250.1 L1068.2,253.3 L1074.7,251.2 L1079.0,254.4 L1083.3,256.6 L1089.8,262.0 L1096.3,272.8 L1102.8,273.9 L1111.5,274.6 L1119.1,269.6 L1125.6,282.6 L1133.2,285.8 L1139.7,290.2 L1145.1,277.6 L1150.5,279.3 L1154.8,285.8 L1161.3,279.3 L1167.8,282.6 L1169.0,281.5" stroke="#ea4e4e" stroke-width="1.8" stroke-dasharray="7 5" fill="none"/>
<path d="M59.7,351.4 L63.2,353.7 L66.7,347.9 L72.5,337.4 L78.3,337.4 L83.0,338.6 L90.0,344.4 L97.0,332.3 L102.9,338.6 L111.0,350.2 L116.9,345.6 L125.0,338.6 L134.4,328.1 L141.4,318.7 L148.4,323.4 L155.4,325.7 L161.2,332.7 L165.9,344.4 L170.6,342.1 L175.0,336.2 L181.9,351.8 L187.3,363.8 L192.8,363.8 L198.2,360.5 L202.5,349.7 L209.0,346.4 L213.3,351.8 L217.7,358.3 L223.1,352.9 L228.5,352.9 L233.9,356.2 L239.3,345.3 L244.8,336.7 L251.2,343.2 L256.7,349.7 L263.2,349.7 L270.8,345.3 L277.2,347.5 L283.8,334.5 L287.0,332.3 L291.3,342.1 L296.8,338.8 L300.0,343.2 L306.2,336.2 L312.5,335.0 L320.0,333.8 L325.0,338.0 L332.5,336.2 L340.0,322.5 L347.5,312.5 L357.5,298.8 L367.5,299.5 L373.8,302.5 L380.0,293.8 L387.5,282.5 L395.0,273.8 L405.0,265.0 L415.0,262.5 L422.5,258.8 L430.0,253.0 L436.2,248.8 L441.2,240.0 L445.0,231.2 L447.5,225.5 L458.8,222.5 L467.5,216.2 L476.2,203.8 L480.0,201.0 L486.0,197.5 L491.0,194.0 L495.0,188.5 L498.0,184.0 L503.0,183.5 L508.0,181.5 L513.0,178.5 L518.0,175.5 L522.0,171.0 L527.0,169.0 L532.0,167.0 L536.0,164.0 L553.3,156.7 L563.3,154.7 L576.7,151.7 L586.7,148.7 L596.7,147.5 L606.7,146.3 L613.3,145.0 L621.7,143.0 L630.0,140.3 L640.0,140.3 L643.3,138.3 L651.7,136.3 L661.7,136.7 L671.7,135.8 L681.7,134.2 L690.0,133.0 L701.7,133.0 L711.7,134.2 L721.7,135.3 L731.7,134.7 L740.0,136.7 L748.3,137.0 L758.3,139.7 L768.3,140.0 L778.3,142.5 L785.0,145.8 L786.7,146.7 L793.3,148.3 L798.3,148.3 L803.3,151.7 L809.2,160.8 L815.8,161.7 L823.3,165.0 L831.7,170.0 L838.3,171.7 L846.7,174.2 L853.3,177.5 L865.1,184.1 L873.6,189.8 L884.9,188.9 L893.4,196.9 L901.9,205.4 L910.4,212.5 L918.9,215.3 L933.0,232.0 L939.5,245.0 L943.8,238.5 L950.3,248.2 L956.8,241.8 L963.3,251.5 L966.6,256.3 L972.0,261.2 L977.4,271.0 L980.7,261.2 L985.0,261.2 L991.5,268.8 L995.8,272.1 L1002.3,273.2 L1008.8,268.8 L1015.3,273.2 L1020.8,281.8 L1027.2,297.0 L1034.8,294.8 L1041.3,297.0 L1045.7,297.0 L1050.0,301.3 L1055.2,299.9 L1061.7,301.0 L1064.9,309.7 L1069.2,322.7 L1073.6,306.4 L1077.9,302.1 L1084.4,301.0 L1088.8,306.4 L1093.1,316.2 L1098.5,310.1 L1103.9,314.0 L1109.3,323.8 L1114.8,309.7 L1120.2,309.7 L1126.7,324.8 L1131.0,324.8 L1136.4,318.3 L1141.8,320.5 L1148.3,324.8 L1154.8,328.1 L1160.2,329.2 L1165.7,333.5 L1169.0,337.8" stroke="#5050ec" stroke-width="1.8" stroke-dasharray="7 5" fill="none"/>
<path d="M59.6,318.6 L62.2,333.6 L65.4,332.8" stroke="#000" stroke-width="2.4" fill="none" stroke-linecap="round" stroke-linejoin="round"/>
<line x1="97.5" y1="77.6" x2="151.5" y2="77.6" stroke="#000" stroke-width="2.7" stroke-linecap="round"/>
<line x1="96.7" y1="92.0" x2="152.1" y2="92.0" stroke="#8080ff" stroke-width="1.5"/>
<line x1="96.7" y1="106.4" x2="152.1" y2="106.4" stroke="#2e7d2e" stroke-width="1.5"/>
<line x1="96.7" y1="120.8" x2="152.1" y2="120.8" stroke="#ffdd55" stroke-width="1.5"/>
<line x1="96.7" y1="135.2" x2="152.1" y2="135.2" stroke="#ff5555" stroke-width="1.5"/>
<line x1="96.7" y1="149.6" x2="152.1" y2="149.6" stroke="#ff0000" stroke-width="2" stroke-dasharray="7 5"/>
<line x1="96.7" y1="164.0" x2="152.1" y2="164.0" stroke="#0000ff" stroke-width="2" stroke-dasharray="7 5"/>
<line x1="97.5" y1="178.4" x2="152" y2="178.4" stroke="#e6e6e6" stroke-width="5" stroke-linecap="round"/>
<text x="162" y="81.9" class="sans" font-size="12" letter-spacing="0.3" fill="#111">2022</text>
<text x="162" y="96.3" class="sans" font-size="12" letter-spacing="0.3" fill="#111">1981-1990</text>
<text x="162" y="110.7" class="sans" font-size="12" letter-spacing="0.3" fill="#111">1991-2000</text>
<text x="162" y="125.1" class="sans" font-size="12" letter-spacing="0.3" fill="#111">2001-2010</text>
<text x="162" y="139.5" class="sans" font-size="12" letter-spacing="0.3" fill="#111">2011-2020</text>
<text x="162" y="153.9" class="sans" font-size="12" letter-spacing="0.3" fill="#111">1991-2020</text>
<text x="162" y="168.3" class="sans" font-size="12" letter-spacing="0.3" fill="#111">1951-1980</text>
<text x="162" y="182.7" class="sans" font-size="12" letter-spacing="0.3" fill="#111">max-min 1950-2021</text>
<rect x="58" y="58" width="1" height="469" fill="#666"/>
<rect x="59" y="58" width="1" height="469" fill="#777"/>
<rect x="58" y="58" width="1112" height="2" fill="#959595"/>
<rect x="1169" y="58" width="1" height="469" fill="#555"/>
<rect x="58" y="526" width="1112" height="1" fill="#222"/>
<path d="M58.87,527 V533.5 M61.92,527 V533.5 M64.98,527 V533.5 M68.03,527 V533.5 M71.08,527 V533.5 M74.13,527 V533.5 M77.19,527 V533.5 M80.24,527 V533.5 M83.29,527 V533.5 M86.34,527 V533.5 M89.40,527 V533.5 M92.45,527 V533.5 M95.50,527 V533.5 M98.55,527 V533.5 M101.61,527 V533.5 M104.66,527 V533.5 M107.71,527 V533.5 M110.76,527 V533.5 M113.82,527 V533.5 M116.87,527 V533.5 M119.92,527 V533.5 M122.97,527 V533.5 M126.03,527 V533.5 M129.08,527 V533.5 M132.13,527 V533.5 M135.19,527 V533.5 M138.24,527 V533.5 M141.29,527 V533.5 M144.34,527 V533.5 M147.40,527 V533.5 M150.45,527 V533.5 M153.50,527 V533.5 M156.55,527 V533.5 M159.61,527 V533.5 M162.66,527 V533.5 M165.71,527 V533.5 M168.76,527 V533.5 M171.82,527 V533.5 M174.87,527 V533.5 M177.92,527 V533.5 M180.97,527 V533.5 M184.03,527 V533.5 M187.08,527 V533.5 M190.13,527 V533.5 M193.18,527 V533.5 M196.24,527 V533.5 M199.29,527 V533.5 M202.34,527 V533.5 M205.39,527 V533.5 M208.45,527 V533.5 M211.50,527 V533.5 M214.55,527 V533.5 M217.61,527 V533.5 M220.66,527 V533.5 M223.71,527 V533.5 M226.76,527 V533.5 M229.82,527 V533.5 M232.87,527 V533.5 M235.92,527 V533.5 M238.97,527 V533.5 M242.03,527 V533.5 M245.08,527 V533.5 M248.13,527 V533.5 M251.18,527 V533.5 M254.24,527 V533.5 M257.29,527 V533.5 M260.34,527 V533.5 M263.39,527 V533.5 M266.45,527 V533.5 M269.50,527 V533.5 M272.55,527 V533.5 M275.60,527 V533.5 M278.66,527 V533.5 M281.71,527 V533.5 M284.76,527 V533.5 M287.81,527 V533.5 M290.87,527 V533.5 M293.92,527 V533.5 M296.97,527 V533.5 M300.03,527 V533.5 M303.08,527 V533.5 M306.13,527 V533.5 M309.18,527 V533.5 M312.24,527 V533.5 M315.29,527 V533.5 M318.34,527 V533.5 M321.39,527 V533.5 M324.45,527 V533.5 M327.50,527 V533.5 M330.55,527 V533.5 M333.60,527 V533.5 M336.66,527 V533.5 M339.71,527 V533.5 M342.76,527 V533.5 M345.81,527 V533.5 M348.87,527 V533.5 M351.92,527 V533.5 M354.97,527 V533.5 M358.02,527 V533.5 M361.08,527 V533.5 M364.13,527 V533.5 M367.18,527 V533.5 M370.24,527 V533.5 M373.29,527 V533.5 M376.34,527 V533.5 M379.39,527 V533.5 M382.45,527 V533.5 M385.50,527 V533.5 M388.55,527 V533.5 M391.60,527 V533.5 M394.66,527 V533.5 M397.71,527 V533.5 M400.76,527 V533.5 M403.81,527 V533.5 M406.87,527 V533.5 M409.92,527 V533.5 M412.97,527 V533.5 M416.02,527 V533.5 M419.08,527 V533.5 M422.13,527 V533.5 M425.18,527 V533.5 M428.23,527 V533.5 M431.29,527 V533.5 M434.34,527 V533.5 M437.39,527 V533.5 M440.44,527 V533.5 M443.50,527 V533.5 M446.55,527 V533.5 M449.60,527 V533.5 M452.66,527 V533.5 M455.71,527 V533.5 M458.76,527 V533.5 M461.81,527 V533.5 M464.87,527 V533.5 M467.92,527 V533.5 M470.97,527 V533.5 M474.02,527 V533.5 M477.08,527 V533.5 M480.13,527 V533.5 M483.18,527 V533.5 M486.23,527 V533.5 M489.29,527 V533.5 M492.34,527 V533.5 M495.39,527 V533.5 M498.44,527 V533.5 M501.50,527 V533.5 M504.55,527 V533.5 M507.60,527 V533.5 M510.65,527 V533.5 M513.71,527 V533.5 M516.76,527 V533.5 M519.81,527 V533.5 M522.87,527 V533.5 M525.92,527 V533.5 M528.97,527 V533.5 M532.02,527 V533.5 M535.08,527 V533.5 M538.13,527 V533.5 M541.18,527 V533.5 M544.23,527 V533.5 M547.29,527 V533.5 M550.34,527 V533.5 M553.39,527 V533.5 M556.44,527 V533.5 M559.50,527 V533.5 M562.55,527 V533.5 M565.60,527 V533.5 M568.65,527 V533.5 M571.71,527 V533.5 M574.76,527 V533.5 M577.81,527 V533.5 M580.86,527 V533.5 M583.92,527 V533.5 M586.97,527 V533.5 M590.02,527 V533.5 M593.08,527 V533.5 M596.13,527 V533.5 M599.18,527 V533.5 M602.23,527 V533.5 M605.29,527 V533.5 M608.34,527 V533.5 M611.39,527 V533.5 M614.44,527 V533.5 M617.50,527 V533.5 M620.55,527 V533.5 M623.60,527 V533.5 M626.65,527 V533.5 M629.71,527 V533.5 M632.76,527 V533.5 M635.81,527 V533.5 M638.86,527 V533.5 M641.92,527 V533.5 M644.97,527 V533.5 M648.02,527 V533.5 M651.07,527 V533.5 M654.13,527 V533.5 M657.18,527 V533.5 M660.23,527 V533.5 M663.28,527 V533.5 M666.34,527 V533.5 M669.39,527 V533.5 M672.44,527 V533.5 M675.50,527 V533.5 M678.55,527 V533.5 M681.60,527 V533.5 M684.65,527 V533.5 M687.71,527 V533.5 M690.76,527 V533.5 M693.81,527 V533.5 M696.86,527 V533.5 M699.92,527 V533.5 M702.97,527 V533.5 M706.02,527 V533.5 M709.07,527 V533.5 M712.13,527 V533.5 M715.18,527 V533.5 M718.23,527 V533.5 M721.28,527 V533.5 M724.34,527 V533.5 M727.39,527 V533.5 M730.44,527 V533.5 M733.49,527 V533.5 M736.55,527 V533.5 M739.60,527 V533.5 M742.65,527 V533.5 M745.71,527 V533.5 M748.76,527 V533.5 M751.81,527 V533.5 M754.86,527 V533.5 M757.92,527 V533.5 M760.97,527 V533.5 M764.02,527 V533.5 M767.07,527 V533.5 M770.13,527 V533.5 M773.18,527 V533.5 M776.23,527 V533.5 M779.28,527 V533.5 M782.34,527 V533.5 M785.39,527 V533.5 M788.44,527 V533.5 M791.49,527 V533.5 M794.55,527 V533.5 M797.60,527 V533.5 M800.65,527 V533.5 M803.70,527 V533.5 M806.76,527 V533.5 M809.81,527 V533.5 M812.86,527 V533.5 M815.91,527 V533.5 M818.97,527 V533.5 M822.02,527 V533.5 M825.07,527 V533.5 M828.13,527 V533.5 M831.18,527 V533.5 M834.23,527 V533.5 M837.28,527 V533.5 M840.34,527 V533.5 M843.39,527 V533.5 M846.44,527 V533.5 M849.49,527 V533.5 M852.55,527 V533.5 M855.60,527 V533.5 M858.65,527 V533.5 M861.70,527 V533.5 M864.76,527 V533.5 M867.81,527 V533.5 M870.86,527 V533.5 M873.91,527 V533.5 M876.97,527 V533.5 M880.02,527 V533.5 M883.07,527 V533.5 M886.12,527 V533.5 M889.18,527 V533.5 M892.23,527 V533.5 M895.28,527 V533.5 M898.34,527 V533.5 M901.39,527 V533.5 M904.44,527 V533.5 M907.49,527 V533.5 M910.55,527 V533.5 M913.60,527 V533.5 M916.65,527 V533.5 M919.70,527 V533.5 M922.76,527 V533.5 M925.81,527 V533.5 M928.86,527 V533.5 M931.91,527 V533.5 M934.97,527 V533.5 M938.02,527 V533.5 M941.07,527 V533.5 M944.12,527 V533.5 M947.18,527 V533.5 M950.23,527 V533.5 M953.28,527 V533.5 M956.33,527 V533.5 M959.39,527 V533.5 M962.44,527 V533.5 M965.49,527 V533.5 M968.54,527 V533.5 M971.60,527 V533.5 M974.65,527 V533.5 M977.70,527 V533.5 M980.76,527 V533.5 M983.81,527 V533.5 M986.86,527 V533.5 M989.91,527 V533.5 M992.97,527 V533.5 M996.02,527 V533.5 M999.07,527 V533.5 M1002.12,527 V533.5 M1005.18,527 V533.5 M1008.23,527 V533.5 M1011.28,527 V533.5 M1014.33,527 V533.5 M1017.39,527 V533.5 M1020.44,527 V533.5 M1023.49,527 V533.5 M1026.54,527 V533.5 M1029.60,527 V533.5 M1032.65,527 V533.5 M1035.70,527 V533.5 M1038.75,527 V533.5 M1041.81,527 V533.5 M1044.86,527 V533.5 M1047.91,527 V533.5 M1050.96,527 V533.5 M1054.02,527 V533.5 M1057.07,527 V533.5 M1060.12,527 V533.5 M1063.18,527 V533.5 M1066.23,527 V533.5 M1069.28,527 V533.5 M1072.33,527 V533.5 M1075.39,527 V533.5 M1078.44,527 V533.5 M1081.49,527 V533.5 M1084.54,527 V533.5 M1087.60,527 V533.5 M1090.65,527 V533.5 M1093.70,527 V533.5 M1096.75,527 V533.5 M1099.81,527 V533.5 M1102.86,527 V533.5 M1105.91,527 V533.5 M1108.96,527 V533.5 M1112.02,527 V533.5 M1115.07,527 V533.5 M1118.12,527 V533.5 M1121.17,527 V533.5 M1124.23,527 V533.5 M1127.28,527 V533.5 M1130.33,527 V533.5 M1133.39,527 V533.5 M1136.44,527 V533.5 M1139.49,527 V533.5 M1142.54,527 V533.5 M1145.60,527 V533.5 M1148.65,527 V533.5 M1151.70,527 V533.5 M1154.75,527 V533.5 M1157.81,527 V533.5 M1160.86,527 V533.5 M1163.91,527 V533.5 M1166.96,527 V533.5 M1170.02,527 V533.5" stroke="#333" stroke-width="1" fill="none"/>
<path d="M51.5,102.5 H58 M51.5,168.5 H58 M51.5,233.5 H58 M51.5,299.5 H58 M51.5,365.5 H58 M51.5,430.5 H58 M51.5,496.5 H58" stroke="#333" stroke-width="1" fill="none"/>
<text transform="translate(42,102.8) rotate(-90)" x="0" y="0" text-anchor="middle" class="sans" font-size="10" textLength="4.56" lengthAdjust="spacingAndGlyphs" fill="#111">5</text>
<text transform="translate(42,168.3) rotate(-90)" x="0" y="0" text-anchor="middle" class="sans" font-size="10" textLength="4.56" lengthAdjust="spacingAndGlyphs" fill="#111">0</text>
<text transform="translate(42,233.9) rotate(-90)" x="0" y="0" text-anchor="middle" class="sans" font-size="10" textLength="7.29" lengthAdjust="spacingAndGlyphs" fill="#111">-5</text>
<text transform="translate(42,299.5) rotate(-90)" x="0" y="0" text-anchor="middle" class="sans" font-size="10" textLength="11.85" lengthAdjust="spacingAndGlyphs" fill="#111">-10</text>
<text transform="translate(42,365.1) rotate(-90)" x="0" y="0" text-anchor="middle" class="sans" font-size="10" textLength="11.85" lengthAdjust="spacingAndGlyphs" fill="#111">-15</text>
<text transform="translate(42,430.7) rotate(-90)" x="0" y="0" text-anchor="middle" class="sans" font-size="10" textLength="11.85" lengthAdjust="spacingAndGlyphs" fill="#111">-20</text>
<text transform="translate(42,496.2) rotate(-90)" x="0" y="0" text-anchor="middle" class="sans" font-size="10" textLength="11.85" lengthAdjust="spacingAndGlyphs" fill="#111">-25</text>
<text x="58.9" y="552.8" text-anchor="middle" class="sans" font-size="10" textLength="21.88" lengthAdjust="spacingAndGlyphs" fill="#111">sty 01</text>
<text x="89.4" y="552.8" text-anchor="middle" class="sans" font-size="10" textLength="21.27" lengthAdjust="spacingAndGlyphs" fill="#111">sty 11</text>
<text x="119.9" y="552.8" text-anchor="middle" class="sans" font-size="10" textLength="21.88" lengthAdjust="spacingAndGlyphs" fill="#111">sty 21</text>
<text x="150.4" y="552.8" text-anchor="middle" class="sans" font-size="10" textLength="21.88" lengthAdjust="spacingAndGlyphs" fill="#111">sty 31</text>
<text x="181.0" y="552.8" text-anchor="middle" class="sans" font-size="10" textLength="20.06" lengthAdjust="spacingAndGlyphs" fill="#111">lut 10</text>
<text x="211.5" y="552.8" text-anchor="middle" class="sans" font-size="10" textLength="20.06" lengthAdjust="spacingAndGlyphs" fill="#111">lut 20</text>
<text x="245.1" y="552.8" text-anchor="middle" class="sans" font-size="10" textLength="25.52" lengthAdjust="spacingAndGlyphs" fill="#111">mar 03</text>
<text x="281.7" y="552.8" text-anchor="middle" class="sans" font-size="10" textLength="25.52" lengthAdjust="spacingAndGlyphs" fill="#111">mar 15</text>
<text x="318.3" y="552.8" text-anchor="middle" class="sans" font-size="10" textLength="25.52" lengthAdjust="spacingAndGlyphs" fill="#111">mar 27</text>
<text x="351.9" y="552.8" text-anchor="middle" class="sans" font-size="10" textLength="23.24" lengthAdjust="spacingAndGlyphs" fill="#111">kwi 07</text>
<text x="385.5" y="552.8" text-anchor="middle" class="sans" font-size="10" textLength="23.24" lengthAdjust="spacingAndGlyphs" fill="#111">kwi 18</text>
<text x="419.1" y="552.8" text-anchor="middle" class="sans" font-size="10" textLength="23.24" lengthAdjust="spacingAndGlyphs" fill="#111">kwi 29</text>
<text x="452.7" y="552.8" text-anchor="middle" class="sans" font-size="10" textLength="24.61" lengthAdjust="spacingAndGlyphs" fill="#111">maj 10</text>
<text x="486.2" y="552.8" text-anchor="middle" class="sans" font-size="10" textLength="24.61" lengthAdjust="spacingAndGlyphs" fill="#111">maj 21</text>
<text x="519.8" y="552.8" text-anchor="middle" class="sans" font-size="10" textLength="24.16" lengthAdjust="spacingAndGlyphs" fill="#111">cze 01</text>
<text x="553.4" y="552.8" text-anchor="middle" class="sans" font-size="10" textLength="24.16" lengthAdjust="spacingAndGlyphs" fill="#111">cze 12</text>
<text x="587.0" y="552.8" text-anchor="middle" class="sans" font-size="10" textLength="24.16" lengthAdjust="spacingAndGlyphs" fill="#111">cze 23</text>
<text x="617.5" y="552.8" text-anchor="middle" class="sans" font-size="10" textLength="19.60" lengthAdjust="spacingAndGlyphs" fill="#111">lip 03</text>
<text x="648.0" y="552.8" text-anchor="middle" class="sans" font-size="10" textLength="19.60" lengthAdjust="spacingAndGlyphs" fill="#111">lip 13</text>
<text x="678.5" y="552.8" text-anchor="middle" class="sans" font-size="10" textLength="19.60" lengthAdjust="spacingAndGlyphs" fill="#111">lip 23</text>
<text x="709.1" y="552.8" text-anchor="middle" class="sans" font-size="10" textLength="21.88" lengthAdjust="spacingAndGlyphs" fill="#111">sie 02</text>
<text x="739.6" y="552.8" text-anchor="middle" class="sans" font-size="10" textLength="21.88" lengthAdjust="spacingAndGlyphs" fill="#111">sie 12</text>
<text x="770.1" y="552.8" text-anchor="middle" class="sans" font-size="10" textLength="21.88" lengthAdjust="spacingAndGlyphs" fill="#111">sie 22</text>
<text x="803.7" y="552.8" text-anchor="middle" class="sans" font-size="10" textLength="24.15" lengthAdjust="spacingAndGlyphs" fill="#111">wrz 02</text>
<text x="837.3" y="552.8" text-anchor="middle" class="sans" font-size="10" textLength="24.15" lengthAdjust="spacingAndGlyphs" fill="#111">wrz 13</text>
<text x="870.9" y="552.8" text-anchor="middle" class="sans" font-size="10" textLength="24.15" lengthAdjust="spacingAndGlyphs" fill="#111">wrz 24</text>
<text x="904.4" y="552.8" text-anchor="middle" class="sans" font-size="10" textLength="24.62" lengthAdjust="spacingAndGlyphs" fill="#111">paź 05</text>
<text x="938.0" y="552.8" text-anchor="middle" class="sans" font-size="10" textLength="24.62" lengthAdjust="spacingAndGlyphs" fill="#111">paź 16</text>
<text x="971.6" y="552.8" text-anchor="middle" class="sans" font-size="10" textLength="24.62" lengthAdjust="spacingAndGlyphs" fill="#111">paź 27</text>
<text x="1002.1" y="552.8" text-anchor="middle" class="sans" font-size="10" textLength="19.14" lengthAdjust="spacingAndGlyphs" fill="#111">lis 06</text>
<text x="1029.6" y="552.8" text-anchor="middle" class="sans" font-size="10" textLength="19.14" lengthAdjust="spacingAndGlyphs" fill="#111">lis 15</text>
<text x="1057.1" y="552.8" text-anchor="middle" class="sans" font-size="10" textLength="19.14" lengthAdjust="spacingAndGlyphs" fill="#111">lis 24</text>
<text x="1087.6" y="552.8" text-anchor="middle" class="sans" font-size="10" textLength="23.25" lengthAdjust="spacingAndGlyphs" fill="#111">gru 04</text>
<text x="1121.2" y="552.8" text-anchor="middle" class="sans" font-size="10" textLength="23.25" lengthAdjust="spacingAndGlyphs" fill="#111">gru 15</text>
<text x="1154.8" y="552.8" text-anchor="middle" class="sans" font-size="10" textLength="23.25" lengthAdjust="spacingAndGlyphs" fill="#111">gru 26</text>
<text x="614.3" y="580.9" text-anchor="middle" class="sans" font-size="12" fill="#111">Data</text>
<text transform="translate(13,292.7) rotate(-90)" text-anchor="middle" class="sans" font-size="12" fill="#111">Temperatura</text>
<text x="59" y="18.7" class="mono" font-size="16" letter-spacing="0.4" fill="#111" stroke="#fff" stroke-width="0.3">Przebieg temperatury w roku 2026</text>
<text x="58" y="40" class="mono" font-size="16" letter-spacing="0.4" fill="#111" stroke="#fff" stroke-width="0.3">Region: Morze Grenlandzkie</text>
<text x="896" y="19.4" class="mono" font-size="16" letter-spacing="0.4" fill="#111" stroke="#fff" stroke-width="0.3">Dane: Reanaliza ERA5 (ECMWF)</text>
<text x="997" y="37.3" class="mono" font-size="10" fill="#555">Wizualizacja: Meteomodel.pl</text>
<text x="387" y="53.6" class="mono" font-size="11.5" letter-spacing="0.14" fill="#3a3a3a" stroke="#fff" stroke-width="0.15">Ostatnie dane: 2026-01-03 (-12.6°C, anomalia (1981-2010): -3.6°C)</text>
</svg></body></html>
